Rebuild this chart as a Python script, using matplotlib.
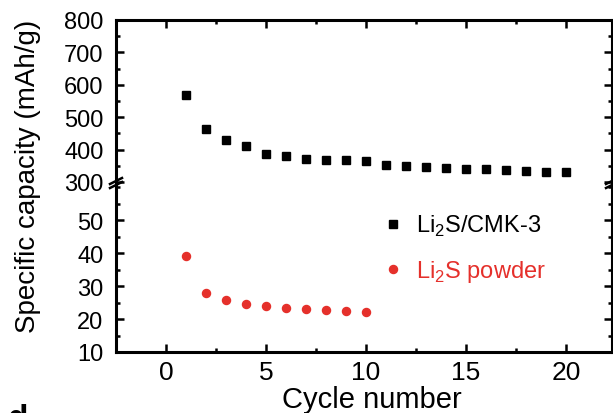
import matplotlib
matplotlib.use("Agg")
import matplotlib.pyplot as plt
from matplotlib.lines import Line2D
from matplotlib.ticker import MultipleLocator

plt.rcParams['font.family'] = ['Liberation Sans', 'DejaVu Sans']
plt.rcParams['mathtext.fontset'] = 'custom'
plt.rcParams['mathtext.rm'] = 'Liberation Sans'

# ---- data ----
cycles_cmk = list(range(1, 21))
cap_cmk = [570, 464, 430, 410, 387, 380, 372, 367, 369, 366,
           353, 349, 347, 343, 340, 339, 338, 334, 331, 330]
cycles_powder = list(range(1, 11))
cap_powder = [39.0, 27.8, 25.9, 24.7, 24.1, 23.5, 23.0, 22.7, 22.3, 22.0]
label_cmk = r"Li$_{\mathregular{2}}$S/CMK-3"
label_powder = r"Li$_{\mathregular{2}}$S powder"
upper_ticks = [300, 400, 500, 600, 700, 800]
lower_ticks = [10, 20, 30, 40, 50]
x_ticks = [0, 5, 10, 15, 20]

RED = '#e5302b'
W, H = 613, 414
fig = plt.figure(figsize=(W / 100, H / 100), dpi=100)

left, right = 116 / W, 612 / W
ax_u = fig.add_axes([left, 1 - 183 / H, right - left, (183 - 21) / H])
ax_l = fig.add_axes([left, 1 - 353 / H, right - left, (353 - 185) / H])

for ax in (ax_u, ax_l):
    ax.set_xlim(-2.5, 22.3)
    ax.xaxis.set_major_locator(MultipleLocator(5))
    ax.xaxis.set_minor_locator(MultipleLocator(2.5))
    for s in ax.spines.values():
        s.set_linewidth(2.2)
    ax.tick_params(which='both', direction='in', width=1.8)
    ax.tick_params(which='major', length=6)
    ax.tick_params(which='minor', length=3)

ax_u.plot(cycles_cmk, cap_cmk, 's', color='black', markersize=5.8, label=label_cmk)
ax_l.plot(cycles_powder, cap_powder, 'o', color=RED, markersize=5.8, label=label_powder)

ax_u.set_ylim(300, 800)
ax_u.set_yticks(upper_ticks)
ax_u.yaxis.set_minor_locator(MultipleLocator(50))
ax_u.spines['bottom'].set_visible(False)
ax_u.tick_params(which='both', top=True, bottom=False, right=True,
                 labelbottom=False, labelsize=17)
ax_u.tick_params(axis='y', pad=9)

ax_l.set_ylim(10, 61)
ax_l.set_yticks(lower_ticks)
ax_l.yaxis.set_minor_locator(MultipleLocator(5))
ax_l.spines['top'].set_visible(False)
ax_l.tick_params(which='both', top=False, bottom=True, right=True, labelsize=17)
ax_l.tick_params(axis='y', pad=9)
ax_l.tick_params(axis='x', pad=6, labelsize=19)
ax_l.set_xticks(x_ticks)

# break marks
for xf in (116, 612):
    for dy in (-2, 2):
        fig.add_artist(Line2D([(xf - 6) / W, (xf + 6) / W],
                              [1 - (184 + dy + 3) / H, 1 - (184 + dy - 3) / H],
                              color='black', lw=1.8, transform=fig.transFigure))

# legend
h1 = Line2D([], [], marker='s', ls='none', color='black', markersize=5.8)
h2 = Line2D([], [], marker='o', ls='none', color=RED, markersize=5.8)
leg = ax_l.legend([h1, h2], [label_cmk, label_powder], loc='upper left',
                  bbox_to_anchor=(0.52, 0.885), frameon=False, fontsize=17,
                  handlelength=0.8, handletextpad=0.6, labelspacing=0.85,
                  borderaxespad=0)
leg.get_texts()[1].set_color(RED)

fig.text(28 / W, 1 - 176 / H, "Specific capacity (mAh/g)", rotation=90,
         ha='center', va='center', fontsize=20)
fig.text(372 / W, 1 - 400 / H, "Cycle number", ha='center', va='center', fontsize=21)
fig.text(8 / W, 1 - 428 / H, "d", fontsize=24, fontweight='bold', ha='left', va='baseline')

fig.savefig("out.png", dpi=100)
